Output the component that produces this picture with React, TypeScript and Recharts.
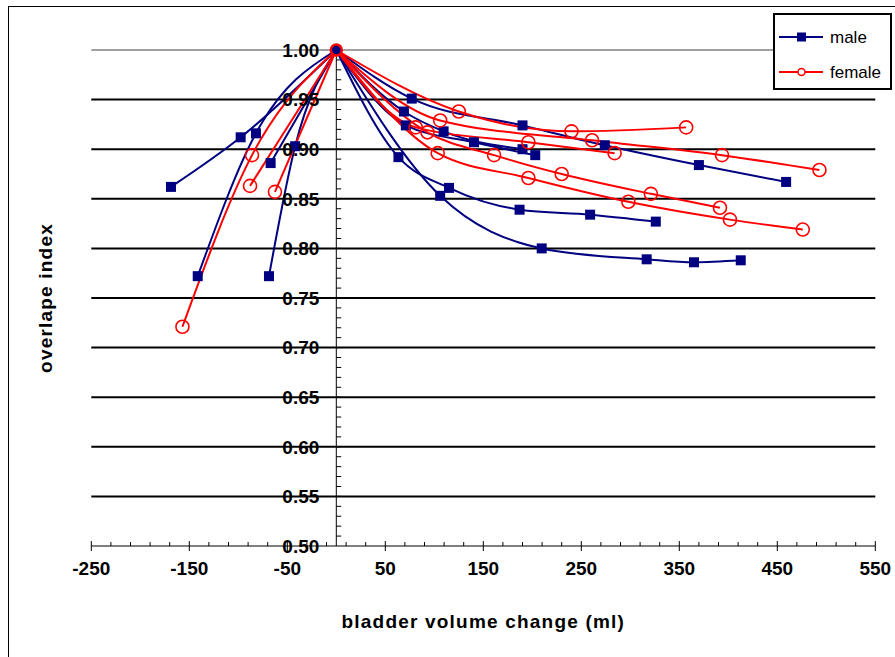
import { LineChart, Line, XAxis, YAxis, ReferenceLine, ReferenceDot } from "recharts";

type Pt = { x: number; y: number };

const NAVY = "#000080";
const RED = "#ff0000";
const FONT = "'Liberation Sans', Arial, sans-serif";

const xTicks = [-250, -150, -50, 50, 150, 250, 350, 450, 550];
const yTicks = [0.5, 0.55, 0.6, 0.65, 0.7, 0.75, 0.8, 0.85, 0.9, 0.95, 1.0];
const gridLines = [0.55, 0.6, 0.65, 0.7, 0.75, 0.8, 0.85, 0.9, 0.95];

// male subjects (filling = right, voiding = left)
const maleA: Pt[] = [{ x: 0, y: 1 }, { x: 77, y: 0.951 }, { x: 190, y: 0.924 }, { x: 274, y: 0.904 }, { x: 370, y: 0.884 }, { x: 459, y: 0.867 }];
const maleB: Pt[] = [{ x: 0, y: 1 }, { x: 69, y: 0.938 }, { x: 109.5, y: 0.918 }, { x: 190, y: 0.9 }];
const maleC: Pt[] = [{ x: 0, y: 1 }, { x: 71, y: 0.924 }, { x: 140.5, y: 0.907 }, { x: 203, y: 0.894 }];
const maleD: Pt[] = [{ x: 0, y: 1 }, { x: 63.4, y: 0.892 }, { x: 115, y: 0.861 }, { x: 187, y: 0.839 }, { x: 259, y: 0.834 }, { x: 326, y: 0.827 }];
const maleE: Pt[] = [{ x: 0, y: 1 }, { x: 106, y: 0.853 }, { x: 209.6, y: 0.8 }, { x: 316.7, y: 0.789 }, { x: 365, y: 0.786 }, { x: 412.7, y: 0.788 }];
const maleF: Pt[] = [{ x: -168.7, y: 0.862 }, { x: -97.6, y: 0.912 }, { x: 0, y: 1 }];
const maleG: Pt[] = [{ x: -141.4, y: 0.772 }, { x: -82, y: 0.916 }, { x: 0, y: 1 }];
const maleH: Pt[] = [{ x: -67, y: 0.886 }, { x: 0, y: 1 }];
const maleI: Pt[] = [{ x: -68.7, y: 0.772 }, { x: -42, y: 0.903 }, { x: 0, y: 1 }];

// female subjects
const femaleA: Pt[] = [{ x: 0, y: 1 }, { x: 125, y: 0.938 }, { x: 240, y: 0.918 }, { x: 357, y: 0.922 }];
const femaleB: Pt[] = [{ x: 0, y: 1 }, { x: 106, y: 0.929 }, { x: 261, y: 0.909 }, { x: 393.6, y: 0.894 }, { x: 493, y: 0.879 }];
const femaleC: Pt[] = [{ x: 0, y: 1 }, { x: 81, y: 0.922 }, { x: 196, y: 0.907 }, { x: 284, y: 0.896 }];
const femaleD: Pt[] = [{ x: 0, y: 1 }, { x: 103.5, y: 0.896 }, { x: 196, y: 0.871 }, { x: 298, y: 0.847 }, { x: 401.7, y: 0.829 }, { x: 476, y: 0.819 }];
const femaleE: Pt[] = [{ x: 0, y: 1 }, { x: 93, y: 0.917 }, { x: 161, y: 0.894 }, { x: 230, y: 0.875 }, { x: 321, y: 0.855 }, { x: 391.5, y: 0.841 }];
const femaleF: Pt[] = [{ x: -157, y: 0.721 }, { x: -86, y: 0.894 }, { x: 0, y: 1 }];
const femaleG: Pt[] = [{ x: -88, y: 0.863 }, { x: 0, y: 1 }];
const femaleH: Pt[] = [{ x: -62.6, y: 0.857 }, { x: 0, y: 1 }];

const maleSeries = [maleA, maleB, maleC, maleD, maleE, maleF, maleG, maleH, maleI];
const femaleSeries = [femaleA, femaleB, femaleC, femaleD, femaleE, femaleF, femaleG, femaleH];

const yMinor = Array.from({ length: 49 }, (_, i) => 0.51 + i * 0.01);
const xMinor = Array.from({ length: 41 }, (_, i) => -250 + i * 20).filter((v) => (v + 250) % 100 !== 0);

function SquareDot(props: any) {
  const { cx, cy, payload, index } = props;
  if (payload.x === 0) return <g key={`s${index}`} />;
  return <rect key={`s${index}`} x={cx - 5} y={cy - 5} width={10} height={10} fill={NAVY} />;
}

function CircleDot(props: any) {
  const { cx, cy, payload, index } = props;
  if (payload.x === 0) return <g key={`c${index}`} />;
  return <circle key={`c${index}`} cx={cx} cy={cy} r={6.5} fill="none" stroke={RED} strokeWidth={1.6} />;
}

function XTick(props: any) {
  const { x, y, payload } = props;
  return (
    <text x={x} y={y + 15} dy="0.355em" textAnchor="middle" fontFamily={FONT} fontWeight="bold" fontSize={19} fill="#000">
      {payload.value}
    </text>
  );
}

export default function App() {
  return (
    <div
      style={{
        position: "fixed",
        left: 8,
        top: 6,
        width: 886,
        height: 651,
        borderLeft: "1px solid #000",
        borderTop: "1px solid #000",
        background: "#fff",
        overflow: "hidden",
      }}
    >
      <LineChart width={886} height={650} margin={{ top: 43, right: 19.7, bottom: 81, left: 82.3 }}>
        <XAxis
          type="number"
          dataKey="x"
          domain={[-250, 550]}
          ticks={xTicks}
          allowDuplicatedCategory={false}
          height={30}
          axisLine={{ stroke: "#000", strokeWidth: 1 }}
          tickLine={{ stroke: "#000" }}
          tickSize={5}
          tick={<XTick />}
        />
        <YAxis type="number" domain={[0.5, 1]} ticks={yTicks} hide />
        {gridLines.map((v) => (
          <ReferenceLine key={`g${v}`} y={v} stroke="#000" strokeWidth={2} />
        ))}
        <ReferenceLine y={1} stroke="#a0a0a0" strokeWidth={2} />
        <ReferenceLine x={0} stroke="#000" strokeWidth={1} />
        {yMinor.map((v) => (
          <ReferenceLine key={`ym${v}`} segment={[{ x: 0, y: v }, { x: 5, y: v }]} stroke="#000" strokeWidth={1} ifOverflow="visible" />
        ))}
        {xTicks.map((v) => (
          <ReferenceLine key={`xM${v}`} segment={[{ x: v, y: 0.5 }, { x: v, y: 0.505 }]} stroke="#000" strokeWidth={1} ifOverflow="visible" />
        ))}
        {xMinor.map((v) => (
          <ReferenceLine key={`xm${v}`} segment={[{ x: v, y: 0.5 }, { x: v, y: 0.504 }]} stroke="#000" strokeWidth={1} ifOverflow="visible" />
        ))}
        {yTicks.map((v) => (
          <ReferenceDot
            key={`yl${v}`}
            x={0}
            y={v}
            r={0}
            fill="none"
            stroke="none"
            ifOverflow="visible"
            label={{
              value: v.toFixed(2),
              position: "left",
              offset: 17,
              fill: "#000",
              fontFamily: FONT,
              fontWeight: "bold",
              fontSize: 19,
            }}
          />
        ))}
        {maleSeries.map((s, i) => (
          <Line
            key={`m${i}`}
            data={s}
            dataKey="y"
            type="monotone"
            stroke={NAVY}
            strokeWidth={2}
            dot={SquareDot}
            activeDot={false}
            isAnimationActive={false}
          />
        ))}
        {femaleSeries.map((s, i) => (
          <Line
            key={`f${i}`}
            data={s}
            dataKey="y"
            type="monotone"
            stroke={RED}
            strokeWidth={2}
            dot={CircleDot}
            activeDot={false}
            isAnimationActive={false}
          />
        ))}
        <ReferenceDot x={0} y={1} r={5.5} fill={NAVY} stroke={RED} strokeWidth={2.5} ifOverflow="visible" />
      </LineChart>

      <div
        style={{
          position: "absolute",
          left: 0,
          top: 611 - 7,
          width: 886,
          fontFamily: FONT,
          fontWeight: "bold",
          fontSize: 19,
          letterSpacing: 1.2,
          lineHeight: "22px",
        }}
      >
        <span style={{ position: "absolute", left: 474.3, transform: "translateX(-50%)", whiteSpace: "nowrap" }}>
          bladder volume change (ml)
        </span>
      </div>

      <div
        style={{
          position: "absolute",
          left: 37,
          top: 291,
          transform: "translate(-50%, -50%) rotate(-90deg)",
          whiteSpace: "nowrap",
          fontFamily: FONT,
          fontWeight: "bold",
          fontSize: 19,
          letterSpacing: 1.2,
          lineHeight: "22px",
        }}
      >
        overlape index
      </div>

      <div
        style={{
          position: "absolute",
          left: 764,
          top: 6,
          width: 115,
          height: 73,
          border: "2px solid #000",
          background: "#fff",
          fontFamily: FONT,
          fontSize: 17,
        }}
      >
        <svg width={115} height={73} style={{ position: "absolute", left: 0, top: 0 }}>
          <line x1={4} x2={48} y1={22} y2={22} stroke={NAVY} strokeWidth={2} />
          <rect x={22} y={17.5} width={9} height={9} fill={NAVY} />
          <line x1={4} x2={48} y1={57} y2={57} stroke={RED} strokeWidth={2} />
          <circle cx={26.5} cy={57} r={3.5} fill="#fff" stroke={RED} strokeWidth={1.5} />
          <text x={55} y={22} dy="0.355em" fontFamily={FONT} fontSize={17} fill="#000">
            male
          </text>
          <text x={55} y={57} dy="0.355em" fontFamily={FONT} fontSize={17} fill="#000">
            female
          </text>
        </svg>
      </div>
    </div>
  );
}
